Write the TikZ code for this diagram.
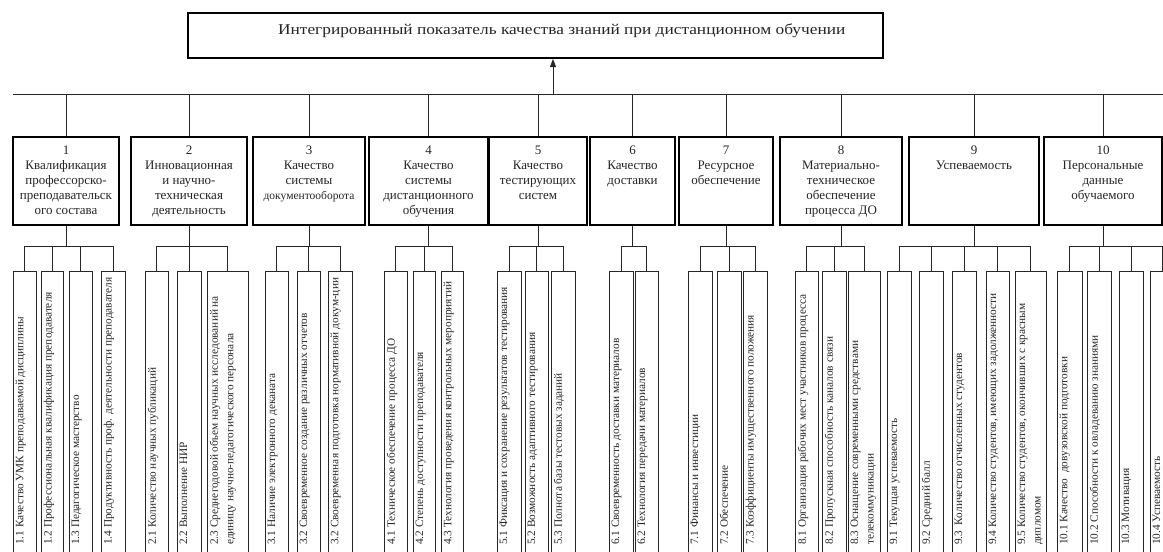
\documentclass[tikz,border=0pt]{standalone}
\usepackage{fontspec}
\setmainfont{Liberation Serif}
\newfontfamily\titlefont[FakeStretch=1.155]{Liberation Serif}
\usetikzlibrary{arrows.meta,calc}
\newcommand\LvlBox[5]{%
  \node[lvl, minimum width={#3-#2}, minimum height=88] (#1) at ({(#2+#3)/2},181) {};
  \node[lbl] (#1t) at ($(#1.north)+(0,#5)$) {#4};
  \draw[conn] (#1.north |- bus) -- (#1.north);
  \draw[conn] (#1.south) -- (#1.south |- sbus);}
\newcommand\SubBox[4]{%
  \node[subbox, minimum width={#3-#2}, minimum height=290, anchor=north] (#1) at ({(#2+#3)/2},271) {};
  \node[subtxt] (#1t) at (#2+2.5,545) {#4};
  \draw[conn] (#1.north) -- (#1.north |- sbus);}
\begin{document}
\begin{tikzpicture}[x=1pt,y=-1pt,
  conn/.style={draw=black!85, line width=0.9pt},
  lvl/.style={draw=black, line width=2pt, inner sep=0pt},
  subbox/.style={draw=black!85, line width=1pt, inner sep=0pt},
  subtxt/.style={rotate=90, anchor=north west, inner sep=0pt, font=\fontsize{11.3}{15.5}\selectfont, align=left, text=black!85},
  lbl/.style={anchor=north, align=center, inner sep=0pt, font=\fontsize{13}{15}\selectfont, text=black!85}]
\useasboundingbox[fill=white] (0,0) rectangle (1163,552);
\coordinate (bus) at (0,94);
\coordinate (sbus) at (0,246);
% top box
\node[lvl, minimum width=695, minimum height=45] (top) at (535.5,35.5) {};
\node[anchor=west, inner sep=0pt, font=\titlefont\fontsize{15}{18}\selectfont, text=black!85] (toptxt) at (278,31) {Интегрированный показатель качества знаний при дистанционном обучении};
\coordinate (busL) at (13,94);
\coordinate (busR) at (1163,94);
\coordinate (arr) at (553,94);
\draw[conn] (busL) -- (busR);
\draw[conn, -{Triangle[length=8pt,width=6pt]}] (arr) -- (arr |- top.south);
% level 1
\LvlBox{b1}{13}{119}{1\\Квалификация\\профессорско-\\преподавательск\\ого состава}{10}
\LvlBox{b2}{131}{247}{2\\Инновационная\\и научно-\\техническая\\деятельность}{10}
\LvlBox{b3}{253}{365}{3\\Качество\\системы\\{\fontsize{11.5}{15}\selectfont документооборота}}{10}
\LvlBox{b4}{369}{488}{4\\Качество\\системы\\дистанционного\\обучения}{10}
\LvlBox{b5}{489}{587}{5\\Качество\\тестирующих\\систем}{10}
\LvlBox{b6}{590}{675}{6\\Качество\\доставки}{10}
\LvlBox{b7}{679}{773}{7\\Ресурсное\\обеспечение}{10}
\LvlBox{b8}{780}{902}{8\\Материально-\\техническое\\обеспечение\\процесса ДО}{10}
\LvlBox{b9}{909}{1039}{9\\Успеваемость}{10}
\LvlBox{b10}{1044}{1162}{10\\Персональные\\данные\\обучаемого}{10}
% sub boxes
\SubBox{s11}{13}{36}{1.1 Качество УМК преподаваемой дисциплины}
\SubBox{s12}{41}{63}{1.2 Профессиональная квалификация преподавателя}
\SubBox{s13}{69}{92}{1.3 Педагогическое мастерство}
\SubBox{s14}{101}{125}{1.4 Продуктивность проф. деятельности преподавателя}
\SubBox{s21}{145}{168}{2.1 Количество научных публикаций}
\SubBox{s22}{177}{201}{2.2 Выполнение НИР}
\SubBox{s23}{207}{248}{2.3 Среднегодовой объем научных исследований на\\единицу научно-педагогического персонала}
\SubBox{s31}{265}{288}{3.1 Наличие электронного деканата}
\SubBox{s32}{297}{320}{3.2 Своевременное создание различных отчетов}
\SubBox{s33}{328}{352}{3.2 Своевременная подготовка нормативной докум-ции}
\SubBox{s41}{384}{407}{4.1 Техническое обеспечение процесса ДО}
\SubBox{s42}{413}{435}{4.2 Степень доступности преподавателя}
\SubBox{s43}{441}{463}{4.3 Технология проведения контрольных мероприятий}
\SubBox{s51}{497}{521}{5.1 Фиксация и сохранение результатов тестирования}
\SubBox{s52}{525}{548}{5.2 Возможность адаптивного тестирования}
\SubBox{s53}{551}{575}{5.3 Полнота базы тестовых заданий}
\SubBox{s61}{609}{633}{6.1 Своевременность доставки материалов}
\SubBox{s62}{635}{658}{6.2 Технология передачи материалов}
\SubBox{s71}{688}{712}{7.1 Финансы и инвестиции}
\SubBox{s72}{717}{741}{7.2 Обеспечение}
\SubBox{s73}{743}{767}{7.3 Коэффициенты имущественного положения}
\SubBox{s81}{795}{818}{8.1 Организация рабочих мест участников процесса}
\SubBox{s82}{822}{846}{8.2 Пропускная способность каналов связи}
\SubBox{s83}{848}{880}{8.3 Оснащение современными средствами\\телекоммуникации}
\SubBox{s91}{887}{911}{9.1 Текущая успеваемость}
\SubBox{s92}{919}{943}{9.2 Средний балл}
\SubBox{s93}{952}{976}{9.3 \ Количество отчисленных студентов}
\SubBox{s94}{986}{1009}{9.4 Количество студентов, имеющих задолженности}
\SubBox{s95}{1015}{1046}{9.5 Количество студентов, окончивших с красным\\дипломом}
\SubBox{s101}{1057}{1082}{10.1 Качество \ довузовской подготовки}
\SubBox{s102}{1087}{1111}{10.2 Способности к овладеванию знаниями}
\SubBox{s103}{1119}{1143}{10.3 Мотивация}
\SubBox{s104}{1150}{1174}{10.4 Успеваемость}
% sub buses
\draw[conn] (s11.north |- sbus) -- (s14.north |- sbus);
\draw[conn] (s21.north |- sbus) -- (s23.north |- sbus);
\draw[conn] (s31.north |- sbus) -- (s33.north |- sbus);
\draw[conn] (s41.north |- sbus) -- (s43.north |- sbus);
\draw[conn] (s51.north |- sbus) -- (s53.north |- sbus);
\draw[conn] (s61.north |- sbus) -- (s62.north |- sbus);
\draw[conn] (s71.north |- sbus) -- (s73.north |- sbus);
\draw[conn] (s81.north |- sbus) -- (s83.north |- sbus);
\draw[conn] (s91.north |- sbus) -- (s95.north |- sbus);
\draw[conn] (s101.north |- sbus) -- (s104.north |- sbus);
\end{tikzpicture}
\end{document}
